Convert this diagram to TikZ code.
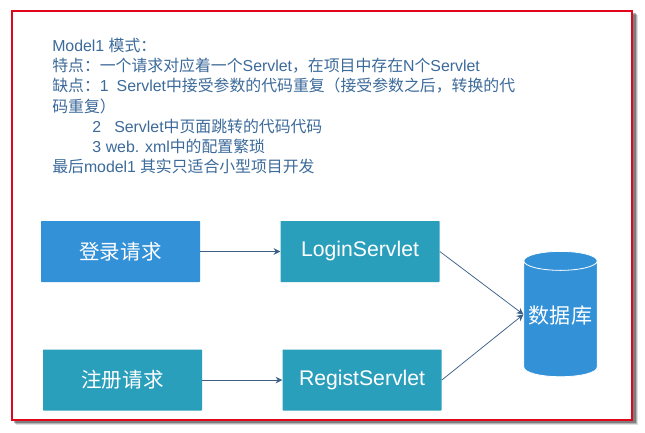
\documentclass[tikz,border=0pt]{standalone}
\usepackage{fontspec}
\usepackage{tikz}
\usetikzlibrary{arrows.meta,positioning,shapes.geometric}
\setmainfont{Liberation Sans}
\newfontfamily\cjk{Noto Sans CJK SC}
\newcommand{\zh}[1]{{\cjk #1}}
\definecolor{framered}{HTML}{E0061C}
\definecolor{softblue}{HTML}{3391D8}
\definecolor{softteal}{HTML}{2A9FBC}
\definecolor{linkblue}{HTML}{3B5F86}
\definecolor{notetext}{HTML}{3C6A9A}
\tikzset{
  blk/.style={rounded corners=.5pt, text=white, align=center, inner sep=0pt, minimum width=119.25pt, minimum height=45.75pt, font=\fontsize{15.4}{18}\selectfont},
  blkb/.style={blk, fill=softblue},
  blkt/.style={blk, fill=softteal},
  srv/.style={blkt, font=\fontsize{15.9}{18}\selectfont},
  cyl/.style={cylinder, shape border rotate=90, aspect=.3, draw=white, line width=.6pt, cylinder uses custom fill, cylinder body fill=softblue, cylinder end fill=softblue, text=white, inner sep=0pt, minimum width=55pt, minimum height=94pt, font=\fontsize{15.8}{18}\selectfont},
  ar/.style={-{Stealth[length=5pt,width=5pt]}, line width=.55pt, draw=linkblue},
  lbl/.style={align=left, anchor=north west, inner sep=0pt, text=notetext, font=\fontsize{11.9}{15.15}\selectfont},
  shd/.style={fill=black, inner sep=0pt, minimum width=466pt, minimum height=307pt},
}
\begin{document}
\begin{tikzpicture}[x=.75pt,y=-.75pt,node distance=50.25pt and 60pt]
    \useasboundingbox (0,0) rectangle (645,432);
    \node[shd, opacity=.12] (shadowa) at (327,220) {};
    \node[shd, opacity=.2] (shadowb) at (326,219) {};
    \node[shd, opacity=.3] (shadowc) at (325,218) {};
    \node[draw=framered, line width=1.7pt, fill=white, inner sep=0pt, minimum width=465.5pt, minimum height=306.5pt] (frame) at (322,215.5) {};
    \node[lbl] (note) at (52,38) {Model1 \zh{模式：}\\
      \zh{特点：一个请求对应着一个}Servlet\zh{，在项目中存在}N\zh{个}Servlet\\
      \zh{缺点：}1\hspace{6pt}Servlet\zh{中接受参数的代码重复（接受参数之后，转换的代}\\
      \zh{码重复）}\\
      \hspace*{30pt}2 \ \ Servlet\zh{中页面跳转的代码代码}\\
      \hspace*{30pt}3\hspace{3.5pt}web. xml\zh{中的配置繁琐}\\
      \zh{最后}model1\hspace{3pt}\zh{其实只适合小型项目开发}};
    \node[blkb] (login) at (120.5,251.5) {\zh{登录请求}};
    \node[srv, right=of login] (loginservlet) {LoginServlet};
    \node[blkt, below=of login, xshift=1.5pt] (regist) {\zh{注册请求}};
    \node[srv, right=of regist] (registservlet) {RegistServlet};
    \node[cyl] (db) at (560.5,319) {\raisebox{6.8pt}{\zh{数据库}}};
    \draw[ar] (login)--(loginservlet); \draw[ar] (regist)--(registservlet);
    \draw[ar] (loginservlet.east)--([yshift=3.4pt]db.west); \draw[ar] (registservlet.east)--([yshift=3.4pt]db.west);
  \end{tikzpicture}
\end{document}
